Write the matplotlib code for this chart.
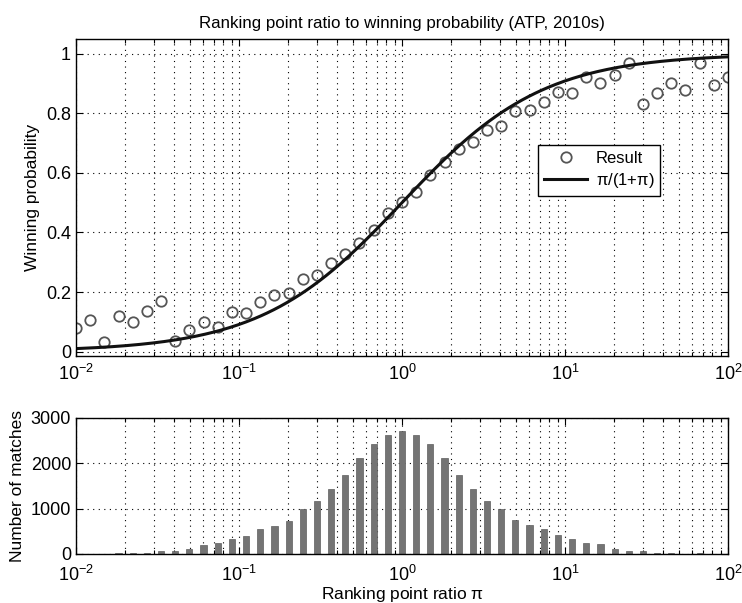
import matplotlib
matplotlib.use('Agg')
import matplotlib.pyplot as plt
import numpy as np
from matplotlib.ticker import FixedLocator, FixedFormatter, LogLocator, NullFormatter

plt.rcParams['font.family'] = ['Liberation Sans', 'DejaVu Sans']
plt.rcParams['mathtext.fontset'] = 'custom'
plt.rcParams['mathtext.rm'] = 'Liberation Sans'
plt.rcParams['mathtext.it'] = 'Liberation Sans'

# bin centres (ranking point ratio)
ratio = [0.01, 0.012217, 0.014925, 0.018234, 0.022277, 0.027216, 0.033249, 0.040621,
         0.049626, 0.060629, 0.074070, 0.090492, 0.11055, 0.13507, 0.16501, 0.20160,
         0.24629, 0.30090, 0.36761, 0.44911, 0.54868, 0.67032, 0.81893, 1.0,
         1.2217, 1.4925, 1.8234, 2.2277, 2.7216, 3.3249, 4.0621, 4.9626,
         6.0629, 7.4070, 9.0492, 11.055, 13.507, 16.501, 20.160, 24.629,
         30.090, 36.761, 44.911, 54.868, 67.032, 81.893, 100.0]

# observed winning probability per bin
win_prob = [0.079, 0.107, 0.032, 0.121, 0.099, 0.135, 0.171, 0.035,
            0.074, 0.098, 0.083, 0.133, 0.129, 0.165, 0.191, 0.196,
            0.243, 0.257, 0.299, 0.327, 0.366, 0.408, 0.466, 0.503,
            0.536, 0.594, 0.636, 0.679, 0.703, 0.745, 0.759, 0.807,
            0.812, 0.837, 0.873, 0.867, 0.921, 0.903, 0.929, 0.969,
            0.832, 0.867, 0.903, 0.880, 0.969, 0.896, 0.923]

# number of matches per bin
n_matches = [5, 10, 10, 15, 20, 25, 60, 73,
             103, 191, 235, 331, 397, 551, 625, 735,
             986, 1176, 1426, 1735, 2125, 2426, 2618, 2713,
             2625, 2426, 2125, 1743, 1426, 1176, 1000, 750,
             632, 559, 412, 338, 250, 213, 118, 74,
             70, 30, 20, 10, 15, 10, 5]

ratio = np.array(ratio)

# theoretical curve pi/(1+pi)
pi_fine = np.logspace(-2, 2, 400)
model = pi_fine / (1 + pi_fine)

font = 13

fig = plt.figure(figsize=(7.42, 6.03), dpi=100)
ax1 = fig.add_axes([0.1024, 0.4096, 0.8787, 0.5257])
ax2 = fig.add_axes([0.1024, 0.0813, 0.8787, 0.2255])

ax1.plot(ratio, win_prob, 'o', mfc='none', mec='#555555', mew=1.3, ms=7.5, label='Result')
ax1.plot(pi_fine, model, '-', color='#111111', lw=2.2, label=r'$\pi$/(1+$\pi$)')
ax1.set_xscale('log')
ax1.set_xlim(0.01, 100)
ax1.set_ylim(-0.015, 1.05)
yt = [0, 0.2, 0.4, 0.6, 0.8, 1]
ax1.yaxis.set_major_locator(FixedLocator(yt))
ax1.yaxis.set_major_formatter(FixedFormatter(['0', '0.2', '0.4', '0.6', '0.8', '1']))
ax1.set_ylabel('Winning probability', fontsize=12.5)
ax1.set_title('Ranking point ratio to winning probability (ATP, 2010s)', fontsize=12.2, pad=8)
ax1.legend(loc='upper left', bbox_to_anchor=(0.709, 0.666), fontsize=12, frameon=True,
           fancybox=False, edgecolor='black', framealpha=1, borderpad=0.35,
           handlelength=2.6, handletextpad=0.5, labelspacing=0.3, borderaxespad=0)

# bar widths in log space
half = 10 ** 0.019
left = ratio / half
width = ratio * half - left
ax2.bar(left, n_matches, width=width, align='edge', color='#747474', edgecolor='#5e5e5e', lw=0.5)
ax2.set_xscale('log')
ax2.set_xlim(0.01, 100)
ax2.set_ylim(0, 3000)
ax2.yaxis.set_major_locator(FixedLocator([0, 1000, 2000, 3000]))
ax2.set_ylabel('Number of matches', fontsize=12.5)
ax2.set_xlabel(r'Ranking point ratio $\pi$', fontsize=12.5, labelpad=0)

for ax in [ax1, ax2]:
    ax.xaxis.set_major_locator(LogLocator(base=10, numticks=10))
    ax.xaxis.set_minor_locator(LogLocator(base=10, subs=np.arange(2, 10), numticks=10))
    ax.xaxis.set_minor_formatter(NullFormatter())
    ax.grid(True, which='major', axis='both', linestyle=(0, (1, 4)), color='black', lw=0.8)
    ax.grid(True, which='minor', axis='x', linestyle=(0, (1, 4)), color='black', lw=0.8)
    ax.tick_params(which='both', direction='in', top=True, right=True, labelsize=font, width=0.8)
    ax.tick_params(which='major', length=5)
    ax.tick_params(which='minor', length=3)
    ax.set_axisbelow(True)
    for s in ax.spines.values():
        s.set_linewidth(1.0)

ax1.tick_params(axis='x', which='major', pad=6)
ax2.tick_params(axis='x', which='major', pad=8)

fig.savefig('out.png', dpi=100)
